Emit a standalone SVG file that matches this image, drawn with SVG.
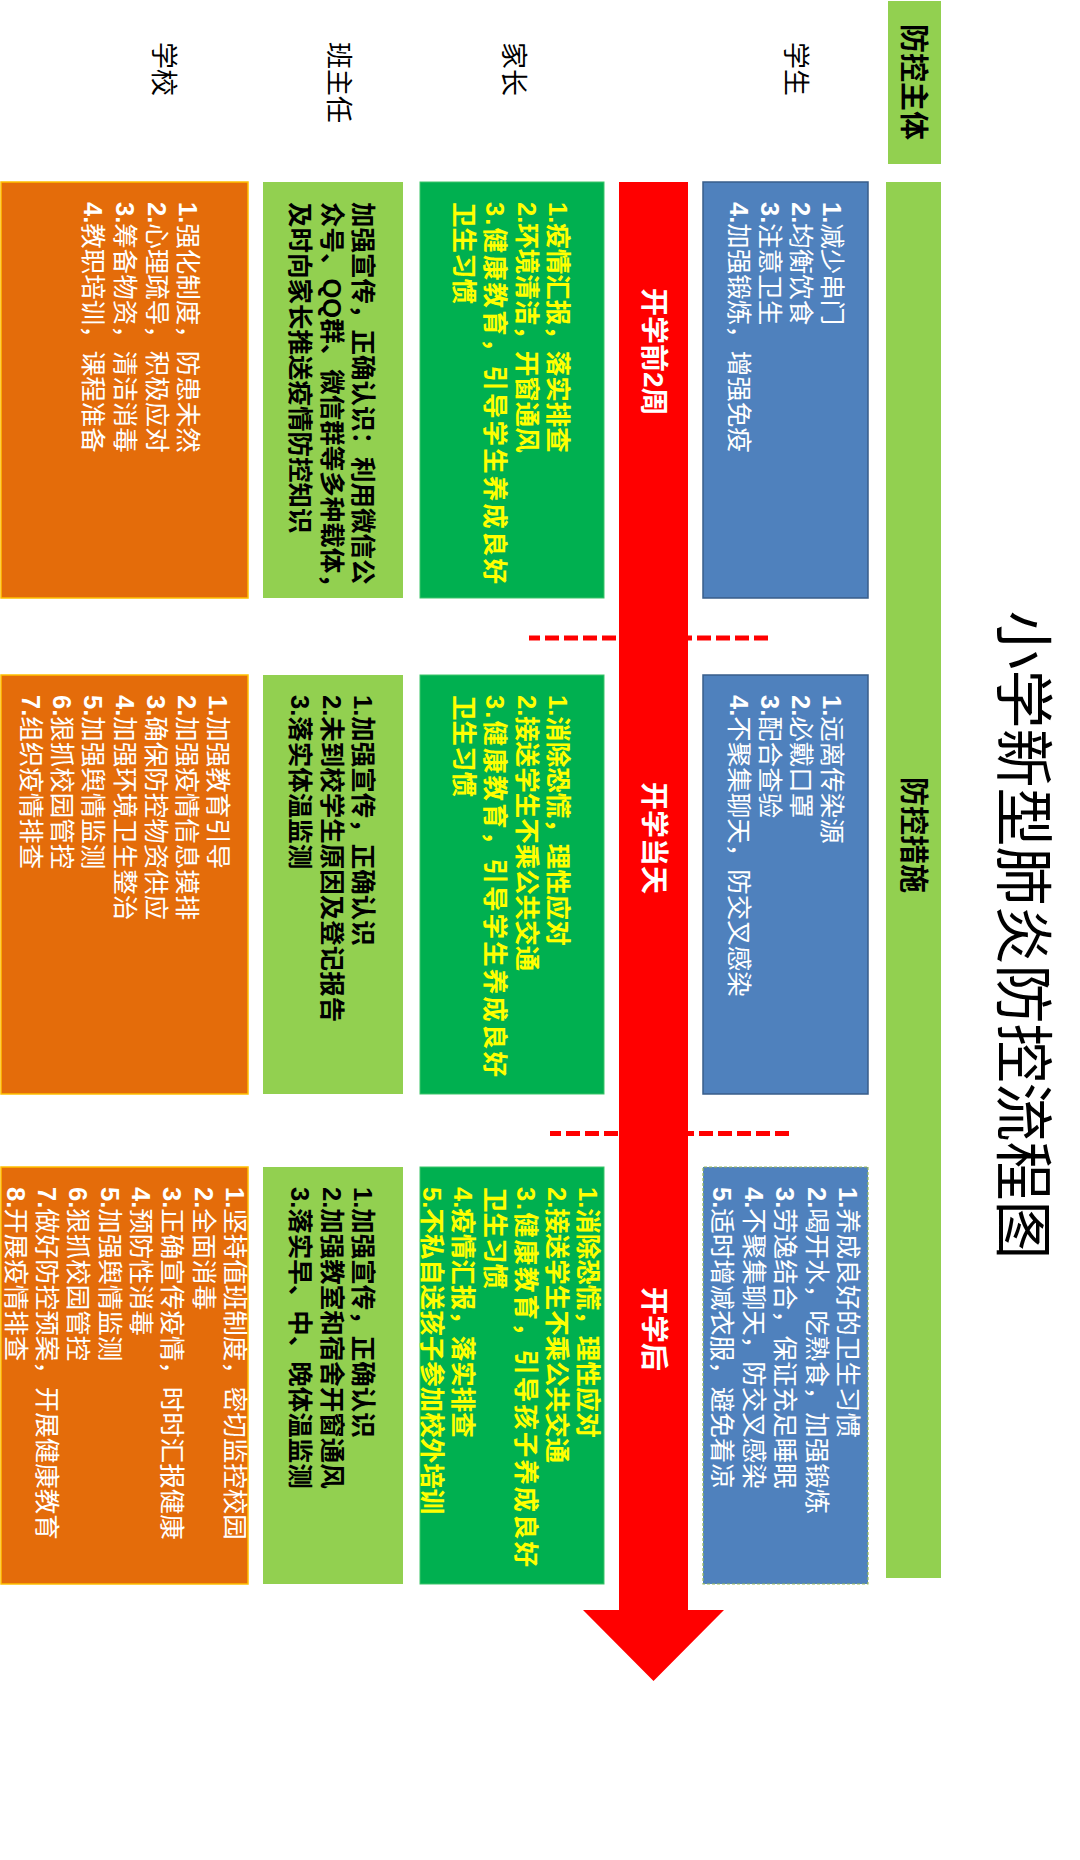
<svg xmlns="http://www.w3.org/2000/svg" width="1080" height="1860" viewBox="0 0 1080 1860">
<style>
text{font-family:"Liberation Sans","Noto Sans CJK SC",sans-serif;dominant-baseline:central}
.t{font-size:25.5px}
.w{fill:#FFFFFF}
.y{fill:#FFFF00;font-weight:bold}
.k{fill:#000000;font-weight:bold}
.n{font-weight:bold}
.lbl{font-size:27px;fill:#000000}
.hdr{font-size:29px;fill:#000000;font-weight:bold}
.phase{font-size:28px;fill:#FFFFFF;font-weight:bold}
.blue{fill:#4F81BD;stroke:#385D8A;stroke-width:1.5}
.dg{fill:#00B050;stroke:#3CC56A;stroke-width:1}
.lg{fill:#92D050}
.or{fill:#E46C0A;stroke:#FFC000;stroke-width:1.5}
.dash{stroke:#FF0000;stroke-width:5;stroke-dasharray:14 5;fill:none}
</style>
<rect width="1080" height="1860" fill="#FFFFFF"/>
<g transform="translate(1080 0) rotate(90)">
  <g id="title"><text x="935" y="58" text-anchor="middle" style="font-size:59px;fill:#000">小学新型肺炎防控流程图</text></g>

  <g id="header-subject"><rect class="lg" x="1" y="139" width="163" height="53"/><text class="hdr" x="82" y="167" text-anchor="middle">防控主体</text></g>
  <g id="header-measures"><rect class="lg" x="182" y="139" width="1396" height="55"/><text class="hdr" x="777" y="167">防控措施</text></g>

  <g id="label-student"><text class="lbl" x="42" y="285">学生</text></g>
  <g id="label-parent"><text class="lbl" x="42" y="567">家长</text></g>
  <g id="label-teacher"><text class="lbl" x="42" y="742">班主任</text></g>
  <g id="label-school"><text class="lbl" x="42" y="917">学校</text></g>

  <g id="connectors">
    <line class="dash" x1="638" y1="312" x2="638" y2="551"/>
    <line class="dash" x1="1133.5" y1="291" x2="1133.5" y2="530"/>
    <polygon id="timeline-arrow" fill="#FF0000" points="182,392 1610,392 1610,356 1681,426.5 1610,497 1610,461 182,461"/>
  </g>

  <g id="phase-labels">
    <text class="phase" x="288" y="427">开学前2周</text>
    <text class="phase" x="782" y="427">开学当天</text>
    <text class="phase" x="1287" y="427">开学后</text>
  </g>

  <!-- Column 1 -->
  <g id="c1-student"><rect class="blue" x="182" y="212" width="416" height="165"/>
    <text class="t w" x="202" y="248"><tspan class="n">1.</tspan>减少串门</text>
    <text class="t w" x="202" y="279"><tspan class="n">2.</tspan>均衡饮食</text>
    <text class="t w" x="202" y="310"><tspan class="n">3.</tspan>注意卫生</text>
    <text class="t w" x="202" y="341"><tspan class="n">4.</tspan>加强锻炼，增强免疫</text>
  </g>
  <g id="c1-parent"><rect class="dg" x="182" y="476" width="416" height="184"/>
    <text class="t y" x="202" y="522">1.疫情汇报，落实排查</text>
    <text class="t y" x="202" y="553">2.环境清洁，开窗通风</text>
    <text class="t y" x="202" y="585" textLength="382" lengthAdjust="spacing">3.健康教育，引导学生养成良好</text>
    <text class="t y" x="202" y="616">卫生习惯</text>
  </g>
  <g id="c1-teacher"><rect class="lg" x="182" y="677" width="416" height="140"/>
    <text class="t k" x="202" y="717">加强宣传，正确认识：利用微信公</text>
    <text class="t k" x="202" y="748">众号、QQ群、微信群等多种载体，</text>
    <text class="t k" x="202" y="780">及时向家长推送疫情防控知识</text>
  </g>
  <g id="c1-school"><rect class="or" x="182" y="832" width="416" height="247"/>
    <text class="t w" x="202" y="892"><tspan class="n">1.</tspan>强化制度，防患未然</text>
    <text class="t w" x="202" y="923"><tspan class="n">2.</tspan>心理疏导，积极应对</text>
    <text class="t w" x="202" y="955"><tspan class="n">3.</tspan>筹备物资，清洁消毒</text>
    <text class="t w" x="202" y="987"><tspan class="n">4.</tspan>教职培训，课程准备</text>
  </g>

  <!-- Column 2 -->
  <g id="c2-student"><rect class="blue" x="675" y="212" width="419" height="165"/>
    <text class="t w" x="695" y="248"><tspan class="n">1.</tspan>远离传染源</text>
    <text class="t w" x="695" y="279"><tspan class="n">2.</tspan>必戴口罩</text>
    <text class="t w" x="695" y="310"><tspan class="n">3.</tspan>配合查验</text>
    <text class="t w" x="695" y="341"><tspan class="n">4.</tspan>不聚集聊天，防交叉感染</text>
  </g>
  <g id="c2-parent"><rect class="dg" x="675" y="476" width="419" height="184"/>
    <text class="t y" x="695" y="522">1.消除恐慌，理性应对</text>
    <text class="t y" x="695" y="553">2.接送学生不乘公共交通</text>
    <text class="t y" x="695" y="585" textLength="382" lengthAdjust="spacing">3.健康教育，引导学生养成良好</text>
    <text class="t y" x="695" y="616">卫生习惯</text>
  </g>
  <g id="c2-teacher"><rect class="lg" x="675" y="677" width="419" height="140"/>
    <text class="t k" x="695" y="717">1.加强宣传，正确认识</text>
    <text class="t k" x="695" y="748">2.未到校学生原因及登记报告</text>
    <text class="t k" x="695" y="780">3.落实体温监测</text>
  </g>
  <g id="c2-school"><rect class="or" x="675" y="832" width="419" height="247"/>
    <text class="t w" x="695" y="862"><tspan class="n">1.</tspan>加强教育引导</text>
    <text class="t w" x="695" y="893"><tspan class="n">2.</tspan>加强疫情信息摸排</text>
    <text class="t w" x="695" y="924"><tspan class="n">3.</tspan>确保防控物资供应</text>
    <text class="t w" x="695" y="955"><tspan class="n">4.</tspan>加强环境卫生整治</text>
    <text class="t w" x="695" y="987"><tspan class="n">5.</tspan>加强舆情监测</text>
    <text class="t w" x="695" y="1018"><tspan class="n">6.</tspan>狠抓校园管控</text>
    <text class="t w" x="695" y="1049"><tspan class="n">7.</tspan>组织疫情排查</text>
  </g>

  <!-- Column 3 -->
  <g id="c3-student"><rect x="1167" y="212" width="417" height="165" fill="#4F81BD" stroke="#9BBB59" stroke-width="1.2" stroke-dasharray="3 2"/>
    <text class="t w" x="1187" y="232"><tspan class="n">1.</tspan>养成良好的卫生习惯</text>
    <text class="t w" x="1187" y="263"><tspan class="n">2.</tspan>喝开水，吃熟食，加强锻炼</text>
    <text class="t w" x="1187" y="295"><tspan class="n">3.</tspan>劳逸结合，保证充足睡眠</text>
    <text class="t w" x="1187" y="326"><tspan class="n">4.</tspan>不聚集聊天，防交叉感染</text>
    <text class="t w" x="1187" y="358"><tspan class="n">5.</tspan>适时增减衣服，避免着凉</text>
  </g>
  <g id="c3-parent"><rect class="dg" x="1167" y="476" width="417" height="184"/>
    <text class="t y" x="1187" y="492">1.消除恐慌，理性应对</text>
    <text class="t y" x="1187" y="523">2.接送学生不乘公共交通</text>
    <text class="t y" x="1187" y="554" textLength="380" lengthAdjust="spacing">3.健康教育，引导孩子养成良好</text>
    <text class="t y" x="1187" y="585">卫生习惯</text>
    <text class="t y" x="1187" y="617">4.疫情汇报，落实排查</text>
    <text class="t y" x="1187" y="648">5.不私自送孩子参加校外培训</text>
  </g>
  <g id="c3-teacher"><rect class="lg" x="1167" y="677" width="417" height="140"/>
    <text class="t k" x="1187" y="717">1.加强宣传，正确认识</text>
    <text class="t k" x="1187" y="748">2.加强教室和宿舍开窗通风</text>
    <text class="t k" x="1187" y="780">3.落实早、中、晚体温监测</text>
  </g>
  <g id="c3-school"><rect class="or" x="1167" y="832" width="417" height="247"/>
    <text class="t w" x="1187" y="845"><tspan class="n">1.</tspan>坚持值班制度，密切监控校园</text>
    <text class="t w" x="1187" y="876"><tspan class="n">2.</tspan>全面消毒</text>
    <text class="t w" x="1187" y="908"><tspan class="n">3.</tspan>正确宣传疫情，时时汇报健康</text>
    <text class="t w" x="1187" y="939"><tspan class="n">4.</tspan>预防性消毒</text>
    <text class="t w" x="1187" y="970"><tspan class="n">5.</tspan>加强舆情监测</text>
    <text class="t w" x="1187" y="1002"><tspan class="n">6.</tspan>狠抓校园管控</text>
    <text class="t w" x="1187" y="1033"><tspan class="n">7.</tspan>做好防控预案，开展健康教育</text>
    <text class="t w" x="1187" y="1064"><tspan class="n">8.</tspan>开展疫情排查</text>
  </g>
</g>
</svg>
